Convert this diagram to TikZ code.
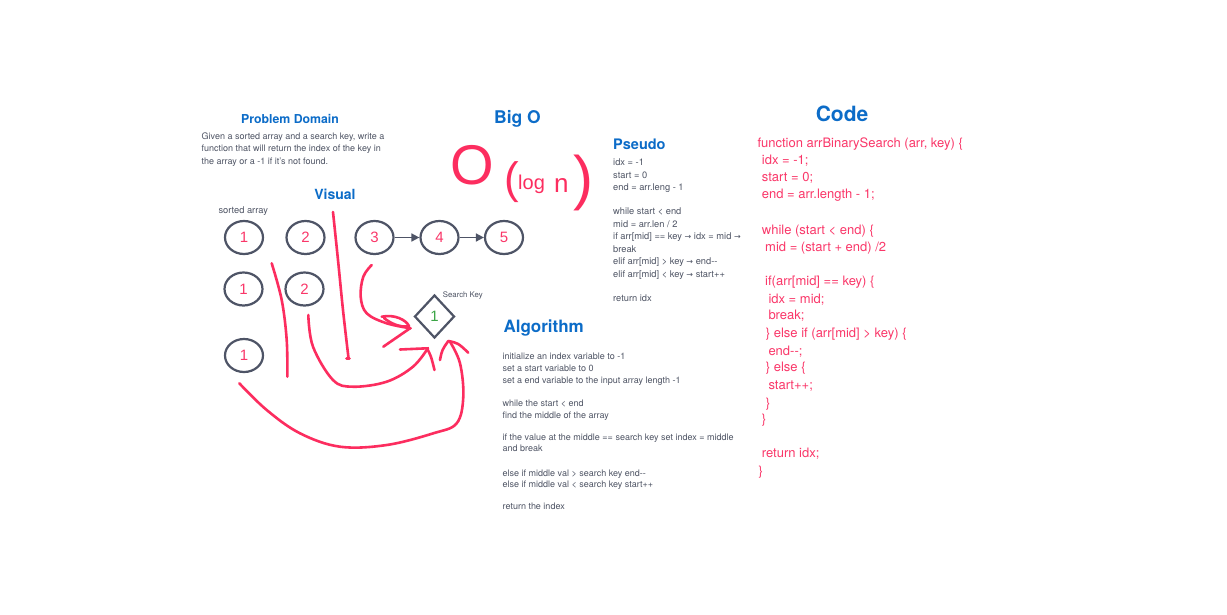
\documentclass[tikz,border=0pt]{standalone}
\usepackage{fontspec}
\setmainfont{TeX Gyre Heros}
\newfontfamily\hand{Liberation Sans}
\newfontfamily\sym{DejaVu Sans}
\usetikzlibrary{shapes.geometric,arrows.meta}
\definecolor{hblue}{RGB}{12,108,200}
\definecolor{tgray}{RGB}{78,84,100}
\definecolor{cgray}{RGB}{78,84,102}
\definecolor{pinkc}{RGB}{250,55,105}
\definecolor{pinks}{RGB}{252,45,95}
\definecolor{keygreen}{RGB}{60,165,70}
\newcommand{\ar}{{\sym\fontsize{8}{8}\selectfont →}}
\begin{document}
\begin{tikzpicture}[x=1pt,y=-1pt,
  head/.style={anchor=base, inner sep=0, text=hblue, font=\bfseries\fontsize{#1}{#1}\selectfont},
  headl/.style={anchor=base west, inner sep=0, text=hblue, font=\bfseries\fontsize{#1}{#1}\selectfont},
  txt/.style={anchor=base west, inner sep=0, text=tgray, font=\fontsize{9}{11}\selectfont},
  ptxt/.style={anchor=base west, inner sep=0, text=tgray, font=\fontsize{9.3}{11}\selectfont},
  code/.style={anchor=base west, inner sep=0, text=pinkc, font=\fontsize{13}{15}\selectfont},
  cell/.style={ellipse, draw=cgray, line width=2.2, minimum width=38, minimum height=33, inner sep=0, text=pinkc, font=\hand\fontsize{15}{15}\selectfont},
  keyshape/.style={diamond, draw=cgray, line width=2.2, minimum width=40, minimum height=43, inner sep=0, text=keygreen, font=\hand\fontsize{15}{15}\selectfont},
  link/.style={draw=cgray, line width=1.6, -{Triangle[length=8,width=8]}},
  ink/.style={draw=pinks, line width=2.6, line cap=round, line join=round},
  handtxt/.style={inner sep=0, text=pinks, font=\hand\fontsize{#1}{#1}\selectfont}]
\useasboundingbox[fill=white] (0,0) rectangle (1227,614);

% Problem domain
\node[head=12.3] (pdh) at (290,123.3) {Problem Domain};
\node[txt] (pd1) at (201.5,139) {Given a sorted array and a search key, write a};
\node[txt] (pd2) at (201.5,151.3) {function that will return the index of the key in};
\node[txt] (pd3) at (201.5,164) {the array or a -1 if it's not found.};

% Visual
\node[head=14] (vish) at (335,199.3) {Visual};
\node[txt, font=\fontsize{9.3}{11}\selectfont] (sa) at (218.3,213.3) {sorted array};

\node[cell] (a1) at (244,237.5) {1};
\node[cell] (a2) at (305.5,237.5) {2};
\node[cell] (a3) at (374.5,237.5) {3};
\node[cell] (a4) at (439.5,237.5) {4};
\node[cell] (a5) at (504,237.5) {5};
\node[cell] (b1) at (243.5,289) {1};
\node[cell] (b2) at (304.5,289) {2};
\node[cell] (c1) at (244,355.5) {1};
\draw[link] (a3) -- (a4);
\draw[link] (a4) -- (a5);

\node[keyshape] (key) at (434.5,316.5) {1};
\node[anchor=west, inner sep=0, text=tgray, font=\fontsize{7.8}{9}\selectfont] (keylbl) at (442.7,295) {Search Key};

% pink annotation strokes
\draw[ink] plot[smooth, tension=0.6] coordinates {(333,212) (338,260) (343,310) (348.5,358)};
\draw[ink] (346.5,358.5) -- (349.5,358.5);
\draw[ink] plot[smooth, tension=0.6] coordinates {(271.7,263.3) (281.7,300) (286.7,340) (287.3,376.7)};
\draw[ink] plot[smooth, tension=0.6] coordinates {(308.3,315) (313,346.7) (333,380) (353,386.7) (386.7,381.7) (413,366.7) (428,348)};
\draw[ink] (400,349.5) -- (427,348.3) .. controls (431,356) .. (434.5,370);
\draw[ink] plot[smooth, tension=0.6] coordinates {(371.7,265) (363.3,276.7) (360.7,296.7) (366.7,313.3) (386.7,323.3) (410.7,328.3)};
\draw[ink] (381.7,316.7) .. controls (395,314) and (406,320) .. (409,326) .. controls (400,328) and (390,323) .. (384,318);
\draw[ink] (383.3,346.7) -- (410,328.3);
\draw[ink] plot[smooth, tension=0.6] coordinates {(239.3,383.3) (266.7,410) (300,433.3) (340,446.7) (386.7,445) (433.3,433.3) (456.7,423.3) (463.3,396.7) (460,363.3) (450,341.7)};
\draw[ink] (440,360) .. controls (442,350) .. (448.3,341) .. controls (458,343) .. (468.3,352.7);

% Big O
\node[head=17.5] (bigoh) at (517.5,123.3) {Big O};
\node[handtxt=56, anchor=base] (hO) at (472,184) {O};
\node[handtxt=44, anchor=base] (hlp) at (512,193) {(};
\node[handtxt=20, anchor=base west] (hlog) at (518,189) {log};
\node[handtxt=26, anchor=base west] (hn) at (554,192) {n};
\node[handtxt=60, anchor=base] (hrp) at (583,198) {)};

% Pseudo
\node[headl=14.5] (psh) at (613,149.3) {Pseudo};
\node[ptxt] (p1) at (613,165.7) {idx = -1};
\node[ptxt] (p2) at (613,178) {start = 0};
\node[ptxt] (p3) at (613,190.7) {end = arr.leng - 1};
\node[ptxt] (p4) at (613,214.7) {while start < end};
\node[ptxt] (p5) at (613,227.3) {mid = arr.len / 2};
\node[ptxt] (p6) at (613,239.7) {if arr[mid] == key \ar{} idx = mid \ar};
\node[ptxt] (p7) at (613,252) {break};
\node[ptxt] (p8) at (613,264.7) {elif arr[mid] > key \ar{} end-{}-};
\node[ptxt] (p9) at (613,277) {elif arr[mid] < key \ar{} start++};
\node[ptxt] (p10) at (613,301.3) {return idx};

% Algorithm
\node[headl=17] (alh) at (503.3,332) {Algorithm};
\node[txt] (g1) at (502.5,359.7) {initialize an index variable to -1};
\node[txt] (g2) at (502.5,371.3) {set a start variable to 0};
\node[txt] (g3) at (502.5,383) {set a end variable to the input array length -1};
\node[txt] (g4) at (502.5,406.3) {while the start < end};
\node[txt] (g5) at (502.5,418) {find the middle of the array};
\node[txt] (g6) at (502.5,440.7) {if the value at the middle == search key set index = middle};
\node[txt] (g7) at (502.5,451.3) {and break};
\node[txt] (g8) at (502.5,476.3) {else if middle val > search key end-{}-};
\node[txt] (g9) at (502.5,487) {else if middle val < search key start++};
\node[txt] (g10) at (502.5,509.7) {return the index};

% Code
\node[head=21] (codeh) at (842,121.7) {Code};
\node[code] (c01) at (757.3,147) {function arrBinarySearch (arr, key) \{};
\node[code] (c02) at (761.7,164.4) {idx = -1;};
\node[code] (c03) at (761.7,181.7) {start = 0;};
\node[code] (c04) at (761.7,198.7) {end = arr.length - 1;};
\node[code] (c05) at (761.7,234.4) {while (start < end) \{};
\node[code] (c06) at (765,251) {mid = (start + end) /2};
\node[code] (c07) at (765,285.4) {if(arr[mid] == key) \{};
\node[code] (c08) at (768.3,303.4) {idx = mid;};
\node[code] (c09) at (768.3,319.4) {break;};
\node[code] (c10) at (765.7,337) {\} else if (arr[mid] > key) \{};
\node[code] (c11) at (768.3,355) {end-{}-;};
\node[code] (c12) at (765.7,371.7) {\} else \{};
\node[code] (c13) at (768.3,389.4) {start++;};
\node[code] (c14) at (765.7,407) {\}};
\node[code] (c15) at (761.7,423.7) {\}};
\node[code] (c16) at (761.7,457.7) {return idx;};
\node[code] (c17) at (758.3,475) {\}};
\end{tikzpicture}
\end{document}
